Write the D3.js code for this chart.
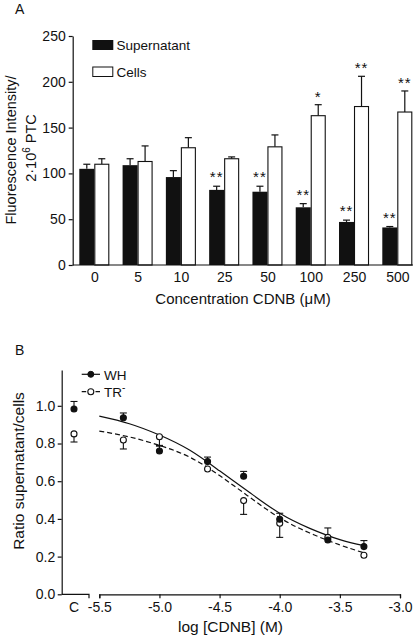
<!DOCTYPE html>
<html><head><meta charset="utf-8">
<script src="https://cdn.jsdelivr.net/npm/d3@7"></script>
<style>
html,body{margin:0;padding:0;background:#fff;}
svg{display:block;}
text{font-family:"Liberation Sans",Arial,Helvetica,sans-serif;fill:#111;}
</style></head><body>
<svg id="chart" width="416" height="640"></svg>
<script>
// ---------- Panel A data ----------
const categories = ["0","5","10","25","50","100","250","500"];
const supernatant = [105,109,96,82,80,63,47,41];
const supernatantErr = [5,7,7,4,6,4,2,1];
const cells = [110,113,128,116,129,163,173,167];
const cellsErr = [6,17,11,2,13,12,33,23];
const supernatantSig = ["","","","**","**","**","**","**"];
const cellsSig = ["","","","","","*","**","**"];
const yTicksA = [0,50,100,150,200,250];
const seriesNamesA = ["Supernatant","Cells"];

// ---------- Panel B data ----------
const controlLabel = "C";
const whControl = 0.983, whControlErr = 0.04;
const trControl = 0.851, trControlErr = -0.043;
const logConc = [-5.3,-5.0,-4.6,-4.3,-4.0,-3.6,-3.3];
const wh = [0.937,0.760,0.704,0.626,0.398,0.288,0.253];
const whErr = [0.025,0.03,0.024,0.026,0.032,0,0.032];
const tr = [0.819,0.836,0.665,0.497,0.377,0.302,0.207];
const trErr = [-0.048,-0.05,0,-0.073,-0.075,0.05,0];
const fitX = [-5.5,-5.25,-5.0,-4.75,-4.5,-4.25,-4.0,-3.75,-3.5,-3.3];
const whFit = [0.945,0.905,0.845,0.765,0.655,0.54,0.43,0.35,0.29,0.258];
const trFit = [0.866,0.835,0.79,0.728,0.63,0.515,0.406,0.325,0.262,0.22];
const xTicksB = [-5.5,-5.0,-4.5,-4.0,-3.5,-3.0];
const yTicksB = [0,0.2,0.4,0.6,0.8,1.0];
const seriesNamesB = ["WH","TR"];

const svg = d3.select("#chart");
const ink = "#111";

// ================= Panel A =================
const gA = svg.append("g");
const xA = d3.scalePoint().domain(categories).range([94.3,397.3]);
const yA = d3.scaleLinear().domain([0,250]).range([265,36]);
const barW = 15, capW = 7;
const axisXA = 72.7, axisEndA = 413;

gA.append("text").attr("x",15).attr("y",13.5).attr("font-size",14).text("A");

categories.forEach((c,i)=>{
  const xs = xA(c)-barW, xc = xA(c);
  gA.append("line").attr("x1",xs+barW/2).attr("x2",xs+barW/2)
    .attr("y1",yA(supernatant[i])).attr("y2",yA(supernatant[i]+supernatantErr[i])).attr("stroke",ink).attr("stroke-width",1.2);
  gA.append("line").attr("x1",xs+barW/2-capW/2).attr("x2",xs+barW/2+capW/2)
    .attr("y1",yA(supernatant[i]+supernatantErr[i])).attr("y2",yA(supernatant[i]+supernatantErr[i])).attr("stroke",ink).attr("stroke-width",1.2);
  gA.append("rect").attr("x",xs).attr("width",barW).attr("y",yA(supernatant[i]))
    .attr("height",yA(0)-yA(supernatant[i])).attr("fill",ink);
  gA.append("line").attr("x1",xc+barW/2).attr("x2",xc+barW/2)
    .attr("y1",yA(cells[i])).attr("y2",yA(cells[i]+cellsErr[i])).attr("stroke",ink).attr("stroke-width",1.2);
  gA.append("line").attr("x1",xc+barW/2-capW/2).attr("x2",xc+barW/2+capW/2)
    .attr("y1",yA(cells[i]+cellsErr[i])).attr("y2",yA(cells[i]+cellsErr[i])).attr("stroke",ink).attr("stroke-width",1.2);
  gA.append("rect").attr("x",xc+0.5).attr("width",barW-1).attr("y",yA(cells[i]))
    .attr("height",yA(0)-yA(cells[i])).attr("fill","#fff").attr("stroke",ink).attr("stroke-width",1.1);
  if (supernatantSig[i]) gA.append("text").attr("x",xs+barW/2).attr("y",yA(supernatant[i]+supernatantErr[i])-4)
    .attr("text-anchor","middle").attr("font-size",15).attr("letter-spacing",1).text(supernatantSig[i]);
  if (cellsSig[i]) gA.append("text").attr("x",xc+barW/2).attr("y",yA(cells[i]+cellsErr[i])-3)
    .attr("text-anchor","middle").attr("font-size",15).attr("letter-spacing",1).text(cellsSig[i]);
});

const yAxA = gA.append("g").attr("transform",`translate(${axisXA},0)`)
  .call(d3.axisLeft(yA).tickValues(yTicksA).tickSize(4).tickSizeOuter(0).tickPadding(3));
yAxA.selectAll("text").attr("font-size",14).attr("fill",ink);
yAxA.selectAll("line,path").attr("stroke",ink).attr("stroke-width",1.2);

const xAxA = gA.append("g").attr("transform",`translate(0,${yA(0)})`)
  .call(d3.axisBottom(xA).tickSize(0).tickPadding(7));
xAxA.select(".domain").remove();
xAxA.selectAll("text").attr("font-size",14).attr("fill",ink);
gA.append("line").attr("x1",axisXA).attr("x2",axisEndA).attr("y1",yA(0)).attr("y2",yA(0))
  .attr("stroke",ink).attr("stroke-width",1.2);

gA.append("text").attr("x",243).attr("y",303.5).attr("text-anchor","middle").attr("font-size",15)
  .text("Concentration CDNB (\u03bcM)");
gA.append("text").attr("transform","translate(16,150) rotate(-90)").attr("text-anchor","middle")
  .attr("font-size",14.5).text("Fluorescence Intensity/");
const t2 = gA.append("text").attr("transform","translate(36,148) rotate(-90)").attr("text-anchor","middle")
  .attr("font-size",14.5);
t2.append("tspan").text("2\u00b710");
t2.append("tspan").attr("dy",-6).attr("font-size",10).text("6");
t2.append("tspan").attr("dy",6).text(" PTC");

gA.append("rect").attr("x",92.3).attr("y",40).attr("width",21).attr("height",10).attr("fill",ink);
gA.append("text").attr("x",116.5).attr("y",50).attr("font-size",13.5).text(seriesNamesA[0]);
gA.append("rect").attr("x",92.8).attr("y",67).attr("width",20).attr("height",9.5).attr("fill","#fff")
  .attr("stroke",ink).attr("stroke-width",1);
gA.append("text").attr("x",116.5).attr("y",77).attr("font-size",13.5).text(seriesNamesA[1]);

// ================= Panel B =================
const gB = svg.append("g");
const xB = d3.scaleLinear().domain([-5.5,-3.0]).range([99.3,400]);
const xC = d3.scaleBand().domain([controlLabel]).range([59,89]);
const yB = d3.scaleLinear().domain([0,1.19]).range([594.3,370]);
const axisXB = 61.7;
const r = 3, capB = 7;

gB.append("text").attr("x",15).attr("y",355).attr("font-size",14).text("B");

const lineGen = d3.line().x(d=>xB(d[0])).y(d=>yB(d[1])).curve(d3.curveNatural);
gB.append("path").datum(fitX.map((x,i)=>[x,whFit[i]])).attr("d",lineGen)
  .attr("fill","none").attr("stroke",ink).attr("stroke-width",1.2);
gB.append("path").datum(fitX.map((x,i)=>[x,trFit[i]])).attr("d",lineGen)
  .attr("fill","none").attr("stroke",ink).attr("stroke-width",1.2).attr("stroke-dasharray","5,3");

function errBar(x,v,e){
  if (!e) return;
  gB.append("line").attr("x1",x).attr("x2",x).attr("y1",yB(v)).attr("y2",yB(v+e))
    .attr("stroke",ink).attr("stroke-width",1.1);
  gB.append("line").attr("x1",x-capB/2).attr("x2",x+capB/2).attr("y1",yB(v+e)).attr("y2",yB(v+e))
    .attr("stroke",ink).attr("stroke-width",1.1);
}
function dot(x,v,filled){
  gB.append("circle").attr("cx",x).attr("cy",yB(v)).attr("r",r)
    .attr("fill",filled?ink:"#fff").attr("stroke",ink).attr("stroke-width",1.1);
}
const cx = xC(controlLabel)+xC.bandwidth()/2;
errBar(cx,whControl,whControlErr);
errBar(cx,trControl,trControlErr);
logConc.forEach((x,i)=>{ errBar(xB(x),wh[i],whErr[i]); errBar(xB(x),tr[i],trErr[i]); });
dot(cx,trControl,false);
dot(cx,whControl,true);
logConc.forEach((x,i)=>{ dot(xB(x),tr[i],false); });
logConc.forEach((x,i)=>{ dot(xB(x),wh[i],true); });

const yAxB = gB.append("g").attr("transform",`translate(${axisXB},0)`)
  .call(d3.axisLeft(yB).tickValues(yTicksB).tickFormat(d=>d.toFixed(1)).tickSize(4).tickSizeOuter(0).tickPadding(2.5));
yAxB.selectAll("text").attr("font-size",14).attr("fill",ink);
yAxB.selectAll("line,path").attr("stroke",ink).attr("stroke-width",1.2);

const xAxB = gB.append("g").attr("transform",`translate(0,${yB(0)})`)
  .call(d3.axisBottom(xB).tickValues(xTicksB).tickFormat(d=>d.toFixed(1)).tickSize(4).tickSizeOuter(4).tickPadding(3.5));
xAxB.selectAll("text").attr("font-size",14).attr("fill",ink);
xAxB.selectAll("line,path").attr("stroke",ink).attr("stroke-width",1.2);

const xAxC = gB.append("g").attr("transform",`translate(0,${yB(0)})`)
  .call(d3.axisBottom(xC).tickSize(0).tickPadding(7.5));
xAxC.select(".domain").remove();
xAxC.selectAll("text").attr("font-size",14).attr("fill",ink);
gB.append("path").attr("d",`M${axisXB},${yB(0)}H${xC.range()[1]}V${yB(0)+4}`)
  .attr("fill","none").attr("stroke",ink).attr("stroke-width",1.2);

gB.append("text").attr("x",230.5).attr("y",632).attr("text-anchor","middle").attr("font-size",15.5)
  .text("log [CDNB] (M)");
gB.append("text").attr("transform","translate(24,471) rotate(-90)").attr("text-anchor","middle")
  .attr("font-size",15.5).text("Ratio supernatant/cells");

gB.append("line").attr("x1",81.7).attr("x2",100).attr("y1",374.3).attr("y2",374.3).attr("stroke",ink).attr("stroke-width",1.2);
gB.append("circle").attr("cx",90.8).attr("cy",374.3).attr("r",r).attr("fill",ink).attr("stroke",ink);
gB.append("text").attr("x",104).attr("y",379.5).attr("font-size",13.5).text(seriesNamesB[0]);
gB.append("line").attr("x1",81.7).attr("x2",100).attr("y1",391.7).attr("y2",391.7).attr("stroke",ink)
  .attr("stroke-width",1.2).attr("stroke-dasharray","4.5,9.3");
gB.append("circle").attr("cx",90.8).attr("cy",391.7).attr("r",r).attr("fill","#fff").attr("stroke",ink).attr("stroke-width",1.1);
const trT = gB.append("text").attr("x",104).attr("y",397.2).attr("font-size",13.5);
trT.append("tspan").text(seriesNamesB[1]);
trT.append("tspan").attr("dy",-6).attr("font-size",10).text("-");
</script>
</body></html>
